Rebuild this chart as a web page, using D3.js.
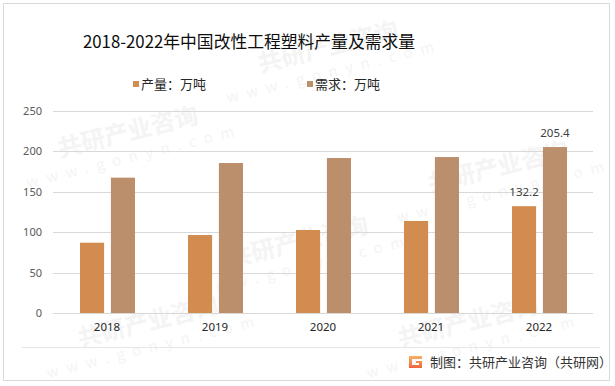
<!DOCTYPE html>
<html>
<head>
<meta charset="utf-8">
<script src="https://cdn.jsdelivr.net/npm/d3@7"></script>
<style>
  body { margin: 0; background: #fff; }
  svg { display: block; font-family: "Noto Sans CJK SC", "Noto Sans", sans-serif; }
</style>
</head>
<body>
<svg id="chart" width="615" height="386"></svg>
<script>
// data
const years = ["2018", "2019", "2020", "2021", "2022"];
const output = [87.0, 96.5, 102.7, 113.9, 132.2];
const demand = [167.5, 185.6, 191.8, 193.0, 205.4];
const seriesNames = ["产量：万吨", "需求：万吨"];
const seriesColors = ["#d38c4f", "#bb8e6c"];
const yTicks = [0, 50, 100, 150, 200, 250];
const labelled = ["2022"];

const svg = d3.select("#chart");
const margin = { left: 53, right: 22, top: 111, bottom: 73 };
const W = 615, H = 386;

// outer frame
svg.append("rect")
  .attr("x", 3.5).attr("y", 3.5)
  .attr("width", 606).attr("height", 377)
  .attr("fill", "#fff").attr("stroke", "#d9d9d9");

// faint watermarks, kept inside the frame
const wm = svg.append("g").attr("fill", "#f4f4f4").attr("font-weight", "bold");
[[130, 140], [330, 55], [300, 250], [500, 175], [150, 330], [470, 330]].forEach(function(p) {
  const g = wm.append("g").attr("transform", "translate(" + p[0] + "," + p[1] + ") rotate(-14)");
  g.append("text").attr("font-size", 24).attr("text-anchor", "middle").text("共研产业咨询");
  g.append("text").attr("y", 22).attr("font-size", 15).attr("text-anchor", "middle")
    .attr("letter-spacing", 8).attr("font-weight", "normal").text("www.gonyn.com");
});

const x0 = d3.scaleBand().domain(years).range([margin.left, W - margin.right]);
const x1 = d3.scaleBand().domain([0, 1]).range([27, 82]).paddingInner(0.22);
const y = d3.scaleLinear().domain([0, 250]).range([H - margin.bottom, margin.top]);

// gridlines
svg.append("g")
  .selectAll("line")
  .data(yTicks)
  .join("line")
  .attr("x1", margin.left).attr("x2", W - margin.right)
  .attr("y1", d => Math.round(y(d)) + 0.5).attr("y2", d => Math.round(y(d)) + 0.5)
  .attr("stroke", "#d9d9d9");

// y axis labels
const yAxis = svg.append("g")
  .attr("transform", "translate(" + (margin.left - 11) + ",0)")
  .call(d3.axisLeft(y).tickValues(yTicks).tickSize(0).tickPadding(0));
yAxis.select(".domain").remove();
yAxis.selectAll("text").attr("font-size", 11).attr("fill", "#595959")
  .attr("font-family", "'Noto Sans', sans-serif");

// x axis labels
const xAxis = svg.append("g")
  .attr("transform", "translate(0," + (H - margin.bottom) + ")")
  .call(d3.axisBottom(x0).tickSize(0).tickPadding(10));
xAxis.select(".domain").remove();
xAxis.selectAll("text").attr("font-size", 11.5).attr("fill", "#262626")
  .attr("font-family", "'Noto Sans', sans-serif");

// bars
const rows = years.map((yr, i) => ({ year: yr, vals: [output[i], demand[i]] }));
const groups = svg.append("g").selectAll("g")
  .data(rows)
  .join("g")
  .attr("transform", d => "translate(" + x0(d.year) + ",0)");

groups.selectAll("rect")
  .data(d => d.vals.map((v, k) => ({ k: k, v: v, year: d.year })))
  .join("rect")
  .attr("x", d => x1(d.k))
  .attr("width", x1.bandwidth())
  .attr("y", d => y(d.v))
  .attr("height", d => y(0) - y(d.v))
  .attr("fill", d => seriesColors[d.k]);

groups.selectAll("text.val")
  .data(d => labelled.includes(d.year) ? d.vals.map((v, k) => ({ k: k, v: v })) : [])
  .join("text")
  .attr("class", "val")
  .attr("x", d => x1(d.k) + x1.bandwidth() / 2)
  .attr("y", d => y(d.v) - 10)
  .attr("text-anchor", "middle")
  .attr("font-size", 11.5)
  .attr("font-family", "'Noto Sans', sans-serif")
  .attr("fill", "#404040")
  .text(d => d.v.toFixed(1));

// title
svg.append("text")
  .attr("x", 249).attr("y", 48)
  .attr("text-anchor", "middle")
  .attr("font-size", 16.8)
  .attr("fill", "#0d0d0d")
  .text("2018-2022年中国改性工程塑料产量及需求量");

// legend
const legendX = [133, 307];
const legend = svg.append("g").selectAll("g")
  .data(seriesNames)
  .join("g")
  .attr("transform", (d, i) => "translate(" + legendX[i] + ",81)");
legend.append("rect").attr("width", 6).attr("height", 6)
  .attr("fill", (d, i) => seriesColors[i]);
legend.append("text").attr("x", 8).attr("y", 8)
  .attr("font-size", 13).attr("fill", "#262626")
  .text(d => d);

// footer
svg.append("line")
  .attr("x1", 22).attr("x2", 600)
  .attr("y1", 347.5).attr("y2", 347.5)
  .attr("stroke", "#e6e6e6");

const grad = svg.append("defs").append("linearGradient")
  .attr("id", "logoGrad").attr("x1", 0).attr("y1", 0).attr("x2", 0).attr("y2", 1);
grad.append("stop").attr("offset", 0).attr("stop-color", "#f7b267");
grad.append("stop").attr("offset", 1).attr("stop-color", "#f0653c");

svg.append("path")
  .attr("transform", "translate(408,356)")
  .attr("d", "M1,0 H14 V3 H4 V9 H11 V7 H8 V5 H14 V12 H1 Z")
  .attr("fill", "url(#logoGrad)");

svg.append("text")
  .attr("x", 430).attr("y", 367)
  .attr("font-size", 13).attr("fill", "#333")
  .text("制图：共研产业咨询（共研网）");
</script>
</body>
</html>
